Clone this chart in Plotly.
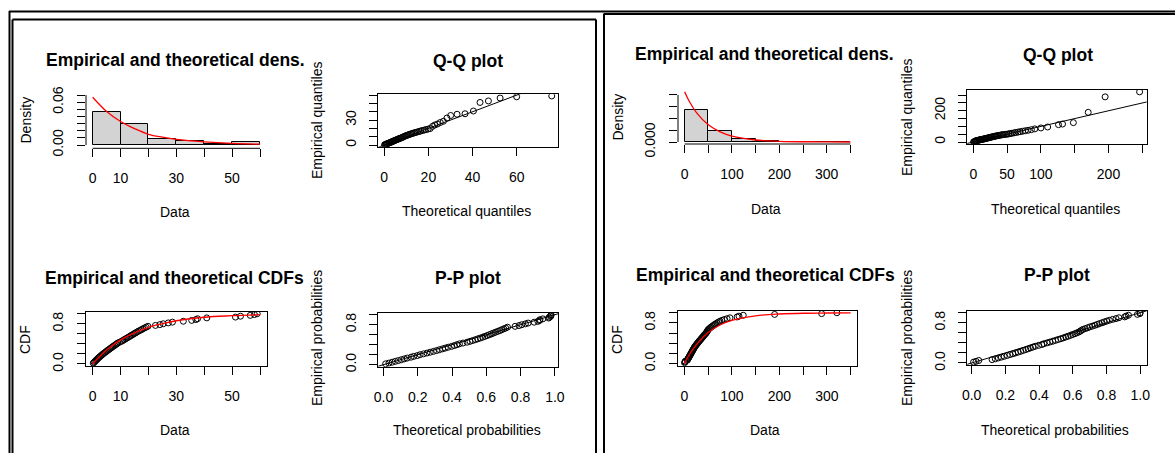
import plotly.graph_objects as go

# ---------------- DATA ----------------
# Left window
left_bin_edges = [0, 10, 20, 30, 40, 50, 60]
left_bin_density = [0.0458, 0.0294, 0.0088, 0.0056, 0.0014, 0.0038]
left_dens_x = [0, 5, 10, 15, 20, 25, 30, 40, 50, 60]
left_dens_y = [0.067, 0.047, 0.033, 0.023, 0.015, 0.011, 0.008, 0.0045, 0.0023, 0.0012]
left_data = [0.2, 0.5, 0.8, 1.1, 1.4, 1.7, 2.0, 2.3, 2.7, 3.0, 3.4, 3.7, 4.1, 4.5, 4.9,
             5.3, 5.7, 6.1, 6.5, 6.9, 7.3, 7.8, 8.2, 8.6, 9.0, 9.6,
             10.3, 10.8, 11.3, 11.8, 12.3, 12.8, 13.3, 13.8, 14.3, 14.8, 15.3, 15.8,
             16.3, 16.9, 17.5, 18.0, 18.6, 19.2, 19.8,
             22.5, 24.1, 25.3, 27.1, 28.6, 32.5, 35.5, 37.0, 37.6, 40.9,
             51.2, 53.0, 56.5, 58.0, 59.0]
left_theo_q = [0.13, 0.39, 0.65, 0.93, 1.20, 1.48, 1.76, 2.05, 2.35, 2.65, 2.96, 3.28, 3.60,
               3.92, 4.26, 4.60, 4.95, 5.31, 5.67, 6.05, 6.43, 6.83, 7.23, 7.65, 8.07, 8.51,
               8.97, 9.43, 9.91, 10.41, 10.93, 11.46, 12.0, 12.6, 13.2, 13.8, 14.4, 15.1,
               15.8, 16.5, 17.3, 18.1, 18.9, 19.9, 20.8, 21.9, 22.9, 24.1, 25.4, 26.8, 28.4,
               30.1, 33.0, 36.6, 40.4, 43.4, 47.2, 52.5, 60.0, 75.9]
left_theo_p = [0.013, 0.032, 0.051, 0.069, 0.087, 0.105, 0.122, 0.139, 0.161, 0.177, 0.198,
               0.214, 0.234, 0.254, 0.273, 0.292, 0.310, 0.327, 0.345, 0.361, 0.378, 0.398,
               0.414, 0.428, 0.443, 0.464, 0.488, 0.505, 0.520, 0.536, 0.550, 0.565, 0.579,
               0.592, 0.605, 0.618, 0.630, 0.642, 0.654, 0.667, 0.679, 0.690, 0.702, 0.713,
               0.724, 0.768, 0.791, 0.807, 0.828, 0.844, 0.879, 0.901, 0.910, 0.913, 0.930,
               0.964, 0.968, 0.975, 0.977, 0.978]
left_cdf_x = [0, 2, 5, 10, 15, 20, 25, 30, 40, 50, 60]
left_cdf_y = [0.0, 0.12, 0.28, 0.48, 0.62, 0.73, 0.80, 0.86, 0.93, 0.96, 0.98]

# Right window
right_bin_edges = [0, 50, 100, 150, 200, 250, 300, 350]
right_bin_density = [0.0136, 0.0048, 0.0013, 0.0004, 0.0, 0.0002, 0.0002]
right_dens_x = [0, 10, 25, 50, 75, 100, 150, 200, 250, 300, 350]
right_dens_y = [0.0214, 0.0172, 0.0125, 0.0073, 0.0043, 0.0025, 0.00085, 0.0003, 0.0001,
                0.00004, 0.00001]
right_data = [0.5, 1.2, 2.0, 6.0, 7.0, 8.0, 9.0, 10.0, 11.0, 12.0, 13.0, 14.0, 15.0, 16.0,
              17.0, 18.0, 19.0, 20.0, 21.0, 22.0, 23.5, 25.0, 26.0, 27.5, 29.0, 30.5, 32.0,
              33.5, 35.0, 36.5, 38.0, 39.5, 41.0, 42.5, 44.0, 45.5, 47.0, 48.0, 49.0, 50.0,
              52.0, 54.0, 56.0, 58.5, 61.0, 63.5, 66.0, 69.0, 72.0, 75.0, 79.0, 84.0, 90.0,
              96.0, 111.0, 115.0, 124.0, 190.0, 289.0, 321.0]
right_theo_q = [0.39, 1.18, 1.97, 2.81, 3.63, 4.47, 5.32, 6.20, 7.10, 8.01, 8.95, 9.92, 10.9,
                11.9, 12.9, 13.9, 15.0, 16.1, 17.1, 18.3, 19.4, 20.6, 21.9, 23.1, 24.4, 25.7,
                27.1, 28.5, 30.0, 31.5, 33.0, 34.6, 36.3, 38.1, 39.9, 41.7, 43.5, 45.6, 47.8,
                49.9, 52.3, 54.7, 57.1, 60.2, 62.9, 66.2, 69.2, 72.9, 76.8, 81.0, 85.9, 91.0,
                100.0, 110.0, 126.0, 132.0, 148.0, 170.0, 195.0, 246.0]
right_theo_p = [0.011, 0.026, 0.042, 0.121, 0.140, 0.158, 0.176, 0.193, 0.211, 0.227, 0.244,
                0.260, 0.276, 0.291, 0.306, 0.321, 0.335, 0.349, 0.363, 0.377, 0.397, 0.416,
                0.428, 0.447, 0.464, 0.481, 0.497, 0.513, 0.529, 0.544, 0.558, 0.572, 0.586,
                0.599, 0.612, 0.624, 0.636, 0.644, 0.651, 0.659, 0.673, 0.687, 0.700, 0.716,
                0.731, 0.745, 0.758, 0.773, 0.787, 0.801, 0.817, 0.836, 0.856, 0.873, 0.908,
                0.916, 0.930, 0.983, 0.998, 0.999]
right_cdf_x = [0, 10, 25, 50, 75, 100, 150, 200, 250, 300, 350]
right_cdf_y = [0.0, 0.17, 0.37, 0.61, 0.76, 0.85, 0.94, 0.975, 0.99, 0.995, 0.998]

# Empirical probabilities (same sample size in both windows)
emp_p = [0.017, 0.033, 0.05, 0.067, 0.083, 0.1, 0.117, 0.133, 0.15, 0.167,
         0.183, 0.2, 0.217, 0.233, 0.25, 0.267, 0.283, 0.3, 0.317, 0.333,
         0.35, 0.367, 0.383, 0.4, 0.417, 0.433, 0.45, 0.467, 0.483, 0.5,
         0.517, 0.533, 0.55, 0.567, 0.583, 0.6, 0.617, 0.633, 0.65, 0.667,
         0.683, 0.7, 0.717, 0.733, 0.75, 0.767, 0.783, 0.8, 0.817, 0.833,
         0.85, 0.867, 0.883, 0.9, 0.917, 0.933, 0.95, 0.967, 0.983, 1.0]

# Tick labels
dens_left_xt = [0, 10, 20, 30, 40, 50, 60]
dens_left_xl = ["0", "10", "", "30", "", "50", ""]
dens_left_yt = [0, 0.01, 0.02, 0.03, 0.04, 0.05, 0.06, 0.07]
dens_left_yl = ["0.00", "", "", "", "", "", "0.06", ""]
qq_left_xt = [0, 20, 40, 60]
qq_left_xl = ["0", "20", "40", "60"]
qq_left_yt = [0, 10, 20, 30, 40, 50, 60]
qq_left_yl = ["0", "", "", "30", "", "", ""]
prob_t = [0, 0.2, 0.4, 0.6, 0.8, 1.0]
prob_xl = ["0.0", "0.2", "0.4", "0.6", "0.8", "1.0"]
prob_yl = ["0.0", "", "", "", "0.8", ""]
dens_right_xt = [0, 50, 100, 150, 200, 250, 300, 350]
dens_right_xl = ["0", "", "100", "", "200", "", "300", ""]
dens_right_yt = [0, 0.005, 0.01, 0.015, 0.02]
dens_right_yl = ["0.000", "", "", "", ""]
qq_right_xt = [0, 50, 100, 150, 200, 250]
qq_right_xl = ["0", "50", "100", "", "200", ""]
qq_right_yt = [0, 50, 100, 150, 200, 250, 300]
qq_right_yl = ["0", "", "", "", "200", "", ""]

# ---------------- LAYOUT ----------------
W, H = 1175, 453
FONT = "Liberation Sans, Arial, sans-serif"
TICKFONT = dict(family=FONT, size=14, color="black")


def px_x(v):
    return v / W


def px_y(v):
    return 1 - v / H


fig = go.Figure()
layout_axes = {}
shapes = []
annotations = []

# panel: (idx, left, right, top, bottom, xrange, yrange, xt, xl, yt, yl, boxed)
panels = [
    (1, 86, 266.7, 94, 148.3, [-2.4, 62.4], [-0.0046, 0.0715],
     dens_left_xt, dens_left_xl, dens_left_yt, dens_left_yl, False),
    (2, 378.3, 557.7, 94.3, 146.7, [-2.7, 78.6], [-2.0, 61.0],
     qq_left_xt, qq_left_xl, qq_left_yt, qq_left_yl, True),
    (3, 86, 266.7, 311.7, 366, [-2.4, 62.4], [-0.04, 1.04],
     dens_left_xt, dens_left_xl, prob_t, prob_yl, True),
    (4, 378.3, 558.3, 312.7, 366.7, [-0.03, 1.02], [-0.04, 1.04],
     prob_t, prob_xl, prob_t, prob_yl, True),
    (5, 678, 857, 90, 144, [-14, 364], [-0.00085, 0.0221],
     dens_right_xt, dens_right_xl, dens_right_yt, dens_right_yl, False),
    (6, 967.3, 1146.7, 90, 144, [-8.9, 256.5], [-12.8, 333],
     qq_right_xt, qq_right_xl, qq_right_yt, qq_right_yl, True),
    (7, 677.7, 857.3, 310.7, 365.7, [-14, 364], [-0.04, 1.04],
     dens_right_xt, dens_right_xl, prob_t, prob_yl, True),
    (8, 967.3, 1146.7, 310.7, 365, [-0.026, 1.038], [-0.04, 1.04],
     prob_t, prob_xl, prob_t, prob_yl, True),
]

for (i, l, r, t, b, xr, yr, xt, xl, yt, yl, boxed) in panels:
    xs = "" if i == 1 else str(i)
    layout_axes["xaxis" + xs] = dict(
        domain=[px_x(l), px_x(r)], range=xr, anchor="y" + xs, automargin=False,
        tickmode="array", tickvals=xt, ticktext=xl, ticks="outside", ticklen=8,
        tickwidth=1, tickcolor="black", tickfont=TICKFONT, ticklabelstandoff=9,
        showgrid=False, zeroline=False, showline=boxed, mirror=boxed,
        linecolor="black", linewidth=1, fixedrange=True)
    layout_axes["yaxis" + xs] = dict(
        domain=[px_y(b), px_y(t)], range=yr, anchor="x" + xs, automargin=False,
        tickmode="array", tickvals=yt, ticktext=yl, ticks="outside", ticklen=8,
        tickwidth=1, tickcolor="black", tickfont=TICKFONT, tickangle=-90,
        ticklabelstandoff=8,
        showgrid=False, zeroline=False, showline=boxed, mirror=boxed,
        linecolor="black", linewidth=1, fixedrange=True)
    if not boxed:
        # R-style axis lines spanning first to last tick
        shapes.append(dict(type="line", xref="x" + xs, yref="y" + xs + " domain",
                           x0=xt[0], x1=xt[-1], y0=0, y1=0,
                           line=dict(color="black", width=1)))
        shapes.append(dict(type="line", xref="x" + xs + " domain", yref="y" + xs,
                           x0=0, x1=0, y0=yt[0], y1=yt[-1],
                           line=dict(color="black", width=1)))


def ax(i):
    s = "" if i == 1 else str(i)
    return "x" + s, "y" + s


def hist(i, edges, dens):
    xa, ya = ax(i)
    centers = [(edges[k] + edges[k + 1]) / 2 for k in range(len(dens))]
    widths = [edges[k + 1] - edges[k] for k in range(len(dens))]
    fig.add_trace(go.Bar(x=centers, y=dens, width=widths, xaxis=xa, yaxis=ya,
                         marker=dict(color="#D3D3D3", line=dict(color="black", width=1)),
                         showlegend=False, hoverinfo="skip"))


def red_curve(i, x, y):
    xa, ya = ax(i)
    fig.add_trace(go.Scatter(x=x, y=y, mode="lines", xaxis=xa, yaxis=ya,
                             line=dict(color="#FF0000", width=1.3, shape="spline"),
                             showlegend=False, hoverinfo="skip"))


def pts(i, x, y):
    xa, ya = ax(i)
    fig.add_trace(go.Scatter(x=x, y=y, mode="markers", xaxis=xa, yaxis=ya,
                             marker=dict(symbol="circle-open", size=6,
                                         color="black", line=dict(width=1, color="black")),
                             showlegend=False, hoverinfo="skip"))


def diag(i, rng):
    xa, ya = ax(i)
    fig.add_trace(go.Scatter(x=[rng[0], rng[1]], y=[rng[0], rng[1]], mode="lines",
                             xaxis=xa, yaxis=ya, line=dict(color="black", width=1),
                             showlegend=False, hoverinfo="skip"))


# Left window
hist(1, left_bin_edges, left_bin_density)
red_curve(1, left_dens_x, left_dens_y)
pts(2, left_theo_q, left_data)
diag(2, [-5, 400])
pts(3, left_data, emp_p)
red_curve(3, left_cdf_x, left_cdf_y)
pts(4, left_theo_p, emp_p)
diag(4, [-1, 2])

# Right window
hist(5, right_bin_edges, right_bin_density)
red_curve(5, right_dens_x, right_dens_y)
pts(6, right_theo_q, right_data)
diag(6, [-20, 400])
pts(7, right_data, emp_p)
red_curve(7, right_cdf_x, right_cdf_y)
pts(8, right_theo_p, emp_p)
diag(8, [-1, 2])

# Text (titles and axis labels)
texts = [
    ("Empirical and theoretical dens.", 175, 60, "title", 0),
    ("Q-Q plot", 468, 61, "title", 0),
    ("Empirical and theoretical CDFs", 174, 278, "title", 0),
    ("P-P plot", 467.5, 277.5, "title", 0),
    ("Density", 25.5, 120, "lab", -90),
    ("Empirical quantiles", 317, 120, "lab", -90),
    ("CDF", 25, 340, "lab", -90),
    ("Empirical probabilities", 317, 338, "lab", -90),
    ("Data", 175, 212, "lab", 0),
    ("Theoretical quantiles", 466, 211, "lab", 0),
    ("Data", 175, 430, "lab", 0),
    ("Theoretical probabilities", 467, 430, "lab", 0),
    ("Empirical and theoretical dens.", 764, 54, "title", 0),
    ("Q-Q plot", 1058, 55, "title", 0),
    ("Empirical and theoretical CDFs", 765.5, 275, "title", 0),
    ("P-P plot", 1057, 275, "title", 0),
    ("Density", 617.5, 117, "lab", -90),
    ("Empirical quantiles", 907, 117, "lab", -90),
    ("CDF", 617, 340, "lab", -90),
    ("Empirical probabilities", 907, 338, "lab", -90),
    ("Data", 766, 209, "lab", 0),
    ("Theoretical quantiles", 1055, 208.5, "lab", 0),
    ("Data", 765, 430, "lab", 0),
    ("Theoretical probabilities", 1055, 430, "lab", 0),
]
for (txt, x, y, kind, ang) in texts:
    if kind == "title":
        t = "<b>" + txt + "</b>"
        f = dict(family=FONT, size=17.5, color="black")
    else:
        t = txt
        f = dict(family=FONT, size=14, color="black")
    annotations.append(dict(text=t, x=px_x(x), y=px_y(y), xref="paper", yref="paper",
                            xanchor="center", yanchor="middle", showarrow=False,
                            textangle=ang, font=f))

# Window frames
frame = dict(color="black", width=2)
shapes += [
    dict(type="line", xref="paper", yref="paper", x0=px_x(9), x1=px_x(1175),
         y0=px_y(11.5), y1=px_y(11.5), line=frame),
    dict(type="line", xref="paper", yref="paper", x0=px_x(9.5), x1=px_x(9.5),
         y0=px_y(11), y1=px_y(453), line=frame),
    dict(type="line", xref="paper", yref="paper", x0=px_x(12.5), x1=px_x(596),
         y0=px_y(19.5), y1=px_y(19.5), line=frame),
    dict(type="line", xref="paper", yref="paper", x0=px_x(12.5), x1=px_x(12.5),
         y0=px_y(19.5), y1=px_y(453), line=frame),
    dict(type="line", xref="paper", yref="paper", x0=px_x(596), x1=px_x(596),
         y0=px_y(19.5), y1=px_y(453), line=frame),
    dict(type="line", xref="paper", yref="paper", x0=px_x(603.5), x1=px_x(1175),
         y0=px_y(14), y1=px_y(14), line=frame),
    dict(type="line", xref="paper", yref="paper", x0=px_x(604), x1=px_x(604),
         y0=px_y(14), y1=px_y(453), line=frame),
]

fig.update_layout(
    width=W, height=H, autosize=False,
    margin=dict(l=0, r=0, t=0, b=0, pad=0, autoexpand=False),
    paper_bgcolor="white", plot_bgcolor="white",
    showlegend=False, bargap=0, shapes=shapes, annotations=annotations,
    font=dict(family=FONT, color="black"),
    **layout_axes,
)

fig.write_html("out.html", config={"displayModeBar": False})
